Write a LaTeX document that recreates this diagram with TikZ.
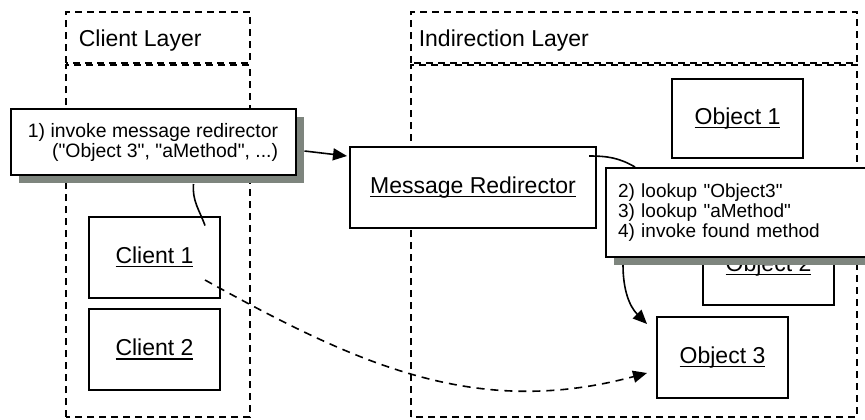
\documentclass[tikz,border=0pt]{standalone}
\usepackage{fontspec}
\setmainfont{Liberation Sans}
\usetikzlibrary{arrows.meta,shadows}
\definecolor{shadowgray}{RGB}{126,133,126}
\newcommand\uname[1]{\setbox0\hbox{#1}\rlap{\rule[-2pt]{\wd0}{0.9pt}}\box0}
\newcommand\dq{\textquotedbl}
\begin{document}
\begin{tikzpicture}[x=0.5pt,y=0.5pt,line width=0.8pt,
                        layer/.style={draw,line width=0.9pt,dash pattern=on 3.5pt off 2.5pt},
                        obj/.style={draw,line width=1pt,fill=white,minimum width=65.5pt,minimum height=40.5pt,inner sep=0pt,font=\fontsize{11.5}{13}\selectfont},
                        callout/.style={draw,line width=1pt,fill=white,inner sep=0pt,drop shadow={shadow xshift=4pt,shadow yshift=-4pt,fill=shadowgray,opacity=1}},
                        tip/.style={-{Triangle[length=7pt,width=6pt]}}]
                        \useasboundingbox (0,0) rectangle (865,419);
                        \draw[layer] (66,356) rectangle (250,407);
                        \draw[layer] (66,2) rectangle (250,354);
                        \draw[layer] (411,356) rectangle (857,407);
                        \draw[layer] (411,2) rectangle (857,354);
                        \node[anchor=base west,inner sep=0pt,font=\fontsize{11.5}{13}\selectfont] (cltitle) at (78,373) {Client Layer};
                        \node[anchor=base west,inner sep=0pt,font=\fontsize{11.5}{13}\selectfont] (intitle) at (418,373) {Indirection Layer};
                        \node[obj] (c1) at (154.5,162) {\uname{Client 1}};
                        \node[obj] (c2) at (154.5,69.5) {\uname{Client 2}};
                        \node[obj,minimum height=39.5pt] (o1) at (737.5,300.5) {\uname{Object 1}};
                        \node[obj,minimum height=39.5pt] (o2) at (768.5,153.5) {\uname{Object 2}};
                        \node[obj] (o3) at (722.5,61.5) {\uname{Object 3}};
                        \node[obj,minimum width=123pt] (mr) at (473,231.5) {\uname{Message Redirector}};
                        \draw ([shift={(-8,-10)}]mr.north east) to[out=0,in=150] ([shift={(30,0)}]605,252) coordinate (c2top);
                        \node[callout,minimum width=142.5pt,minimum height=33pt,align=right,font=\fontsize{9.7}{10}\selectfont] (call1) at (153,277) {1) invoke message redirector\\(\dq Object 3\dq, \dq aMethod\dq, ...)};
                        \node[callout,anchor=north west,minimum width=140pt,minimum height=44.5pt,text width=128pt,inner xsep=6pt,align=left,font=\fontsize{9.5}{8.5}\selectfont] (call2) at (605,252) {2) lookup \dq Object3\dq\\3) lookup \dq aMethod\dq\\4) invoke found method};
                        \draw[tip] ([shift={(8,-9)}]call1.east) -- ([shift={(-2,-10)}]mr.north west);
                        \draw ([shift={(40.5,-8)}]call1.south) to[out=265,in=110] ([shift={(-16,-10)}]c1.north east);
                        \draw[tip] ([shift={(18,-7)}]call2.south west) to[out=270,in=135] ([shift={(-9,-8)}]o3.north west);
                        \draw[tip,dash pattern=on 4pt off 3pt] ([shift={(-16,-23)}]c1.east) to[out=-29,in=195] ([shift={(-9,-15.5)}]o3.west);
                    \end{tikzpicture}
\end{document}
